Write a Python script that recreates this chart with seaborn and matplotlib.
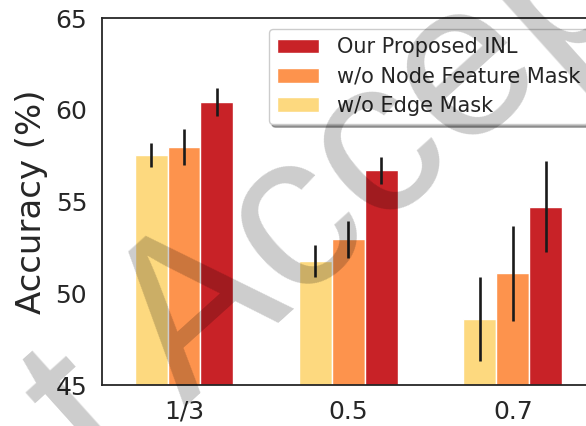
import matplotlib
matplotlib.use("Agg")
import matplotlib.pyplot as plt
import seaborn as sns
import pandas as pd

# Mask ratios on the x axis
ratios = ["1/3", "0.5", "0.7"]

# Mean accuracy (%) and standard deviation per variant
edge_mask_acc = [57.55, 51.75, 48.60]
edge_mask_std = [0.65, 0.88, 2.29]
node_mask_acc = [57.99, 52.94, 51.09]
node_mask_std = [0.97, 0.99, 2.59]
inl_acc = [60.44, 56.70, 54.73]
inl_std = [0.76, 0.74, 2.49]

variants = ["w/o Edge Mask", "w/o Node Feature Mask", "Our Proposed INL"]
colors = ["#fdd97f", "#fd934d", "#c82227"]

rows = []
for name, acc, std in zip(variants,
                          [edge_mask_acc, node_mask_acc, inl_acc],
                          [edge_mask_std, node_mask_std, inl_std]):
    for r, a, s in zip(ratios, acc, std):
        rows.append({"ratio": r, "variant": name, "acc": a, "std": s})
df = pd.DataFrame(rows)

sns.set_style("white")
plt.rcParams["font.family"] = ["DejaVu Sans"]

fig = plt.figure(figsize=(5.86, 4.26), dpi=100)
ax = fig.add_axes([0.1736, 0.0962, 0.8418, 0.8608])

sns.barplot(data=df, x="ratio", y="acc", hue="variant", hue_order=variants,
            order=ratios, palette=colors, saturation=1, width=0.6,
            edgecolor="white", linewidth=1.0, errorbar=None, ax=ax)

# error bars at the centre of each bar
for cont, name in zip(ax.containers, variants):
    sub = df[df["variant"] == name].set_index("ratio").loc[ratios]
    xs = [p.get_x() + p.get_width() / 2 for p in cont.patches]
    ax.errorbar(xs, sub["acc"].values, yerr=sub["std"].values, fmt="none",
                ecolor="#1a1a1a", elinewidth=1.9, capsize=0, zorder=4)

ax.set_ylim(45, 65)
ax.set_xlim(-0.5, 2.5)
ax.set_yticks([45, 50, 55, 60, 65])
ax.set_xlabel("")
ax.set_ylabel("Accuracy (%)", fontsize=24.5, color="#262626", labelpad=5)
ax.tick_params(axis="both", labelsize=18, length=0, pad=10.5,
               labelcolor="#262626")
for sp in ax.spines.values():
    sp.set_color("#262626")
    sp.set_linewidth(1.3)

handles, labels = ax.get_legend_handles_labels()
ax.legend(handles[::-1], labels[::-1], loc="upper left",
          bbox_to_anchor=(0.339, 0.971), borderaxespad=0, fontsize=15,
          frameon=True, shadow=True, fancybox=True, edgecolor="#cccccc",
          handlelength=2.0, handletextpad=0.85, labelspacing=0.45)

# diagonal stamp across the figure
fig.text(0.174, -0.131, "t Accepted", rotation=42, rotation_mode="anchor",
         ha="left", va="baseline", fontsize=160, color="black", alpha=0.2,
         family="Liberation Sans", zorder=10)

fig.savefig("out.png", dpi=100)
